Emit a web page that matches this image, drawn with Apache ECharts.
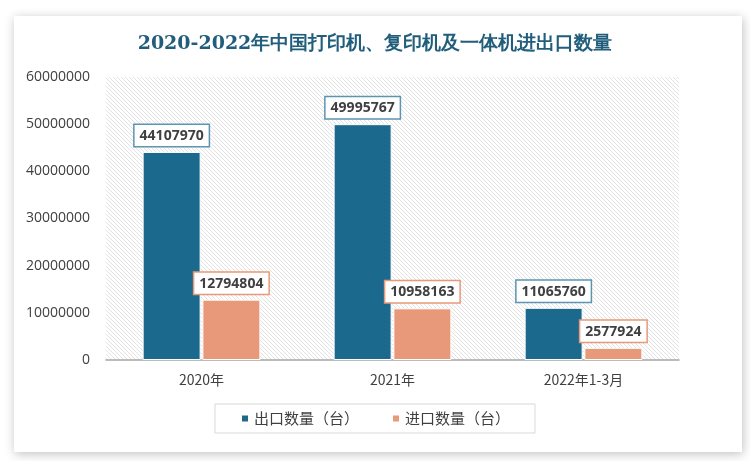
<!DOCTYPE html>
<html><head><meta charset="utf-8">
<script src="https://cdn.jsdelivr.net/npm/echarts@6/dist/echarts.min.js"></script>
<style>html,body{margin:0;padding:0;background:#fff}#c{width:750px;height:461px}</style>
</head><body><div id="c"></div>
<script>
const categories = ['2020年', '2021年', '2022年1-3月'];
const exportValues = [44107970, 49995767, 11065760];
const importValues = [12794804, 10958163, 2577924];
const seriesNames = ['出口数量（台）', '进口数量（台）'];

const pc = document.createElement('canvas');
pc.width = 4; pc.height = 4;
const g = pc.getContext('2d');
g.fillStyle = '#ffffff'; g.fillRect(0,0,4,4);
g.strokeStyle = '#e2e2e2'; g.lineWidth = 1;
g.beginPath();
g.moveTo(0,0); g.lineTo(4,4);
g.moveTo(-2,2); g.lineTo(2,6);
g.moveTo(2,-2); g.lineTo(6,2);
g.stroke();

const chart = echarts.init(document.getElementById('c'));
const labelCommon = {
  show: true, position: 'top', distance: 6,
  color: '#404040', fontSize: 14, fontWeight: 'bold',
  fontFamily: 'Open Sans, sans-serif',
  backgroundColor: '#fff', borderWidth: 1.5, padding: [4, 5, 3, 5]
};
chart.setOption({
  animation: false,
  graphic: [{
    type: 'rect', shape: {x: 14, y: 16, width: 728, height: 436},
    style: {fill: '#fff', shadowBlur: 10, shadowColor: 'rgba(0,0,0,0.25)', shadowOffsetX: 1, shadowOffsetY: 2},
    z: -10
  }],
  title: {
    text: '2020-2022年中国打印机、复印机及一体机进出口数量',
    left: 'center', top: 30,
    textStyle: {color: '#215e7c', fontSize: 19, fontWeight: 'bold', fontFamily: 'DejaVu Serif, serif'}
  },
  legend: {
    bottom: 28, left: 'center',
    itemWidth: 8, itemHeight: 8, itemGap: 32,
    borderColor: '#d9d9d9', borderWidth: 1, padding: [7, 25, 7, 25],
    textStyle: {color: '#404040', fontSize: 15, fontFamily: 'Noto Sans CJK SC'},
    icon: 'rect'
  },
  grid: {
    left: 106, right: 71, top: 77, bottom: 101, show: true,
    backgroundColor: {image: pc, repeat: 'repeat'}, borderWidth: 0
  },
  xAxis: {
    type: 'category', data: categories,
    axisLine: {lineStyle: {color: '#a6a6a6', width: 1.5}},
    axisTick: {show: false},
    axisLabel: {color: '#404040', fontSize: 14, margin: 13, fontFamily: 'Noto Sans CJK SC'}
  },
  yAxis: {
    type: 'value', min: 0, max: 60000000, interval: 10000000,
    splitLine: {show: false}, axisLine: {show: false}, axisTick: {show: false},
    axisLabel: {color: '#404040', fontSize: 14, margin: 16, fontFamily: 'Open Sans, sans-serif',
      formatter: v => String(v)}
  },
  series: [
    {
      name: seriesNames[0], type: 'bar', data: exportValues, barWidth: 58, barGap: '3%',
      itemStyle: {color: '#1b6a8d', borderColor: '#fff', borderWidth: 1},
      label: Object.assign({}, labelCommon, {borderColor: '#5b95b2'})
    },
    {
      name: seriesNames[1], type: 'bar', data: importValues, barWidth: 58,
      itemStyle: {color: '#e8997a', borderColor: '#fff', borderWidth: 1},
      label: Object.assign({}, labelCommon, {borderColor: '#e8997a'})
    }
  ]
});
</script></body></html>
